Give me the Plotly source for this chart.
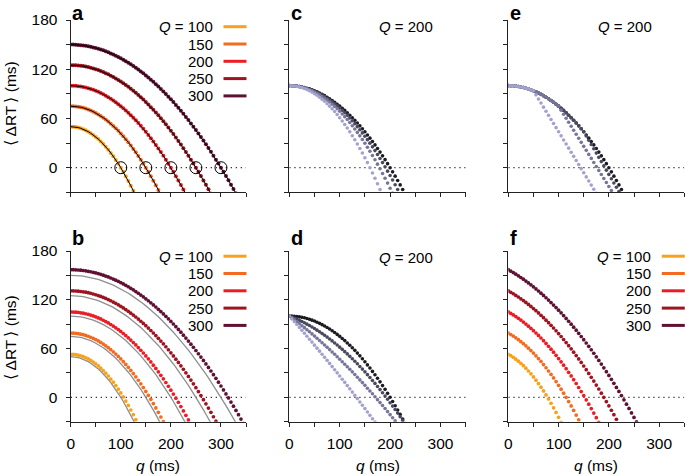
import plotly.graph_objects as go

W, H = 685, 476
FONT = "Liberation Sans, Arial, Helvetica, sans-serif"

# sampling grid of q (ms); every series below is sampled on it from q = 0
Q_GRID = list(range(0, 400, 5))

Q_VALUES = [100, 150, 200, 250, 300]
Q_NAMES = ["<i>Q</i> = 100", "150", "200", "250", "300"]
Q_COLORS = ["#f8a11b", "#f26b21", "#ec1c24", "#9e1320", "#5f1133"]
SHADES = ["#1a1a21", "#4a495f", "#77769a", "#a3a2ce"]  # dark -> light

# ---- panel a (also grey reference curves of panel b) ----
A_100 = [50, 49.9, 49.5, 48.9, 48, 46.9, 45.5, 43.9, 42, 39.9, 37.5, 34.9, 32, 28.9, 25.5, 21.9, 18, 13.9, 9.5, 4.9, 0, -5.1, -10.5, -16.1, -22, -28.1, -34.5]
A_150 = [75, 74.9, 74.7, 74.3, 73.7, 72.9, 72, 70.9, 69.7, 68.3, 66.7, 64.9, 63, 60.9, 58.7, 56.3, 53.7, 50.9, 48, 44.9, 41.7, 38.3, 34.7, 30.9, 27, 22.9, 18.7, 14.3, 9.7, 4.9, 0, -5.1, -10.3, -15.8, -21.3, -27.1, -33]
A_200 = [100, 99.9, 99.8, 99.4, 99, 98.4, 97.8, 96.9, 96, 94.9, 93.8, 92.4, 91, 89.4, 87.8, 85.9, 84, 81.9, 79.8, 77.4, 75, 72.4, 69.8, 66.9, 64, 60.9, 57.8, 54.4, 51, 47.4, 43.8, 39.9, 36, 31.9, 27.8, 23.4, 19, 14.4, 9.8, 4.9, 0, -5.1, -10.3, -15.6, -21, -26.6, -32.3]
A_250 = [125, 125, 124.8, 124.6, 124.2, 123.8, 123.2, 122.6, 121.8, 121, 120, 119, 117.8, 116.6, 115.2, 113.8, 112.2, 110.6, 108.8, 107, 105, 103, 100.8, 98.6, 96.2, 93.8, 91.2, 88.6, 85.8, 83, 80, 77, 73.8, 70.6, 67.2, 63.8, 60.2, 56.6, 52.8, 49, 45, 41, 36.8, 32.6, 28.2, 23.8, 19.2, 14.6, 9.8, 5, 0, -5, -10.2, -15.5, -20.8, -26.3, -31.8]
A_300 = [150, 150, 149.8, 149.6, 149.3, 149, 148.5, 148, 147.3, 146.6, 145.8, 145, 144, 143, 141.8, 140.6, 139.3, 138, 136.5, 135, 133.3, 131.6, 129.8, 128, 126, 124, 121.8, 119.6, 117.3, 115, 112.5, 110, 107.3, 104.6, 101.8, 99, 96, 93, 89.8, 86.6, 83.3, 80, 76.5, 73, 69.3, 65.6, 61.8, 58, 54, 50, 45.8, 41.6, 37.3, 33, 28.5, 24, 19.3, 14.6, 9.8, 5, 0, -5, -10.2, -15.4, -20.7, -26, -31.5]
A_SERIES = [A_100, A_150, A_200, A_250, A_300]

# ---- panel b ----
B_100 = [53, 52.9, 52.5, 51.9, 51.1, 50, 48.7, 47.2, 45.4, 43.4, 41.1, 38.6, 35.9, 32.9, 29.7, 26.2, 22.5, 18.6, 14.4, 10, 5.4, 0.5, -4.6, -10, -15.6, -21.4, -27.5, -33.8]
B_150 = [79, 78.9, 78.7, 78.3, 77.7, 77, 76.1, 75.1, 73.9, 72.6, 71, 69.4, 67.5, 65.5, 63.4, 61.1, 58.6, 56, 53.2, 50.3, 47.2, 43.9, 40.5, 36.9, 33.1, 29.2, 25.2, 21, 16.6, 12, 7.3, 2.5, -2.5, -7.7, -13, -18.5, -24.2, -30]
B_200 = [105, 104.9, 104.8, 104.5, 104, 103.5, 102.8, 102.1, 101.2, 100.1, 99, 97.7, 96.4, 94.8, 93.2, 91.5, 89.6, 87.6, 85.5, 83.3, 81, 78.5, 75.9, 73.2, 70.4, 67.4, 64.4, 61.2, 57.9, 54.5, 50.9, 47.3, 43.5, 39.6, 35.5, 31.4, 27.1, 22.7, 18.2, 13.6, 8.8, 4, -1, -6.1, -11.4, -16.7, -22.2, -27.8, -33.5]
B_250 = [131, 131, 130.8, 130.6, 130.2, 129.8, 129.3, 128.7, 128, 127.1, 126.2, 125.2, 124.1, 122.9, 121.7, 120.3, 118.8, 117.2, 115.6, 113.8, 111.9, 110, 107.9, 105.8, 103.5, 101.2, 98.8, 96.3, 93.6, 90.9, 88.1, 85.2, 82.2, 79.1, 75.9, 72.6, 69.2, 65.8, 62.2, 58.5, 54.7, 50.9, 46.9, 42.9, 38.7, 34.5, 30.1, 25.7, 21.2, 16.6, 11.8, 7, 2.1, -2.9, -8, -13.2, -18.5, -23.9, -29.3, -34.9]
B_300 = [157, 157, 156.8, 156.6, 156.4, 156, 155.6, 155, 154.5, 153.8, 153, 152.2, 151.3, 150.3, 149.2, 148.1, 146.8, 145.5, 144.1, 142.7, 141.1, 139.5, 137.8, 136, 134.1, 132.2, 130.1, 128, 125.8, 123.6, 121.2, 118.8, 116.3, 113.7, 111.1, 108.3, 105.5, 102.6, 99.6, 96.6, 93.4, 90.2, 86.9, 83.5, 80.1, 76.5, 72.9, 69.2, 65.4, 61.6, 57.6, 53.6, 49.5, 45.4, 41.1, 36.8, 32.4, 27.9, 23.3, 18.6, 13.9, 9.1, 4.2, -0.8, -5.8, -10.9, -16.1, -21.4, -26.8, -32.2]
B_SERIES = [B_100, B_150, B_200, B_250, B_300]

# ---- panel c (Q = 200), dark -> light ----
C_BLACK = A_200
C_DARK = [100, 99.9, 99.7, 99.4, 98.9, 98.3, 97.5, 96.6, 95.6, 94.5, 93.2, 91.7, 90.1, 88.4, 86.6, 84.6, 82.5, 80.2, 77.8, 75.3, 72.6, 69.8, 66.9, 63.8, 60.6, 57.2, 53.7, 50.1, 46.3, 42.4, 38.4, 34.2, 29.9, 25.4, 20.8, 16.1, 11.2, 6.2, 1.1, -4.2, -9.6, -15.1, -20.8, -26.6, -32.6]
C_MID = [100, 99.9, 99.7, 99.3, 98.8, 98, 97.2, 96.2, 95, 93.7, 92.2, 90.5, 88.8, 86.8, 84.7, 82.4, 80, 77.4, 74.7, 71.8, 68.8, 65.5, 62.2, 58.7, 55, 51.2, 47.2, 43, 38.8, 34.3, 29.7, 24.9, 20, 14.9, 9.7, 4.3, -1.3, -7, -12.8, -18.8, -25, -31.3]
C_LIGHT = [100, 99.9, 99.6, 99.1, 98.4, 97.6, 96.5, 95.2, 93.8, 92.1, 90.2, 88.2, 85.9, 83.5, 80.9, 78, 75, 71.8, 68.4, 64.8, 60.9, 56.9, 52.7, 48.3, 43.8, 39, 34, 28.8, 23.4, 17.9, 12.1, 6.2, 0, -6.4, -12.9, -19.6, -26.6, -33.7]
C_SERIES = [C_BLACK, C_DARK, C_MID, C_LIGHT]

# ---- panel d (Q = 200), dark -> light ----
D_BLACK = A_200
D_DARK = [100, 98.8, 97.5, 96.2, 94.7, 93.2, 91.7, 90, 88.3, 86.5, 84.6, 82.6, 80.6, 78.5, 76.3, 74.1, 71.8, 69.4, 66.9, 64.3, 61.7, 59, 56.2, 53.4, 50.4, 47.4, 44.4, 41.2, 38, 34.7, 31.3, 27.9, 24.3, 20.7, 17.1, 13.3, 9.5, 5.6, 1.6, -2.4, -6.6, -10.8, -15, -19.4, -23.8, -28.3, -32.9]
D_MID = [100, 97.7, 95.4, 93, 90.6, 88.1, 85.7, 83.1, 80.6, 78, 75.3, 72.7, 69.9, 67.2, 64.4, 61.6, 58.7, 55.8, 52.9, 49.9, 46.9, 43.8, 40.7, 37.6, 34.5, 31.3, 28, 24.7, 21.4, 18.1, 14.7, 11.2, 7.8, 4.3, 0.7, -2.9, -6.5, -10.1, -13.8, -17.6, -21.3, -25.2, -29, -32.9]
D_LIGHT = [100, 96.5, 93, 89.5, 85.9, 82.4, 78.8, 75.2, 71.5, 67.9, 64.2, 60.5, 56.8, 53, 49.3, 45.5, 41.7, 37.8, 34, 30.1, 26.2, 22.3, 18.4, 14.4, 10.4, 6.4, 2.4, -1.6, -5.7, -9.8, -13.9, -18, -22.2, -26.3, -30.5]
D_SERIES = [D_BLACK, D_DARK, D_MID, D_LIGHT]

# ---- panel e (Q = 200), dark -> light ----
E_BLACK = A_200
E_DARK = [100, 99.9, 99.8, 99.4, 99, 98.4, 97.8, 96.9, 96, 94.9, 93.8, 92.4, 91, 89.4, 87.8, 85.9, 84, 81.9, 79.8, 77.4, 75, 72.4, 69.8, 66.9, 64, 60.9, 57.8, 54.4, 51, 47.4, 43.8, 38.6, 33.4, 28.2, 23, 17.8, 12.6, 7.4, 2.2, -3, -8.2, -13.4, -18.6, -23.8, -29, -34.2]
E_MID = [100, 99.9, 99.8, 99.4, 99, 98.4, 97.8, 96.9, 96, 94.9, 93.8, 92.4, 91, 89.4, 87.8, 85.9, 84, 81.9, 79.8, 77.4, 75, 70.1, 65.2, 60.3, 55.4, 50.5, 45.6, 40.7, 35.8, 30.9, 26, 21.1, 16.2, 11.3, 6.4, 1.5, -3.4, -8.3, -13.2, -18.1, -23, -27.9, -32.8]
E_LIGHT = [100, 99.9, 99.8, 99.4, 99, 98.4, 97.8, 96.9, 96, 94.9, 93.8, 88.8, 83.8, 78.8, 73.8, 68.8, 63.8, 58.8, 53.8, 48.8, 43.8, 38.8, 33.8, 28.8, 23.8, 18.8, 13.8, 8.8, 3.8, -1.2, -6.2, -11.2, -16.2, -21.2, -26.2, -31.2]
E_SERIES = [E_BLACK, E_DARK, E_MID, E_LIGHT]

# ---- panel f ----
F_100 = [53, 51.2, 49.2, 46.9, 44.5, 41.8, 38.9, 35.8, 32.4, 28.9, 25.1, 21.1, 16.9, 12.5, 7.9, 3, -2.1, -7.3, -12.9, -18.6, -24.5, -30.7]
F_150 = [79, 77.2, 75.3, 73.2, 70.9, 68.5, 66, 63.3, 60.5, 57.5, 54.4, 51.1, 47.6, 44.1, 40.3, 36.4, 32.4, 28.2, 23.9, 19.4, 14.8, 10, 5.1, 0, -5.2, -10.6, -16.1, -21.8, -27.6, -33.6]
F_200 = [105, 103.2, 101.3, 99.3, 97.2, 95, 92.6, 90.1, 87.5, 84.9, 82, 79.1, 76.1, 73, 69.7, 66.3, 62.8, 59.2, 55.5, 51.7, 47.7, 43.7, 39.5, 35.2, 30.8, 26.3, 21.7, 17, 12.1, 7.1, 2.1, -3.1, -8.4, -13.9, -19.4, -25, -30.8]
F_250 = [131, 129.2, 127.4, 125.4, 123.4, 121.2, 119, 116.7, 114.3, 111.8, 109.2, 106.6, 103.8, 100.9, 98, 94.9, 91.8, 88.6, 85.3, 81.9, 78.4, 74.8, 71.1, 67.4, 63.5, 59.6, 55.5, 51.4, 47.2, 42.9, 38.5, 34, 29.4, 24.7, 20, 15.1, 10.2, 5.1, 0, -5.2, -10.5, -15.9, -21.4, -27, -32.7]
F_300 = [157, 155.2, 153.4, 151.5, 149.5, 147.4, 145.3, 143, 140.7, 138.4, 135.9, 133.4, 130.8, 128.1, 125.3, 122.5, 119.6, 116.6, 113.5, 110.4, 107.2, 103.9, 100.5, 97.1, 93.6, 90, 86.3, 82.6, 78.7, 74.8, 70.9, 66.8, 62.7, 58.5, 54.2, 49.8, 45.4, 40.9, 36.3, 31.6, 26.9, 22.1, 17.2, 12.2, 7.2, 2.1, -3.1, -8.4, -13.7, -19.2, -24.7, -30.2]
F_SERIES = [F_100, F_150, F_200, F_250, F_300]

X_TICKS = [0, 50, 100, 150, 200, 250, 300, 350]
X_LABELS = ["0", "", "100", "", "200", "", "300", ""]
Y_TICKS = [-30, 0, 30, 60, 90, 120, 150, 180]
Y_LABELS = ["", "0", "", "60", "", "120", "", "180"]

# ---- layout geometry (window pixels) ----
COLS_PX = [(70.7, 246.0), (289.3, 465.7), (508.3, 684.3)]
ROWS_PX = [(20.0, 192.3), (251.0, 421.7)]
LETTER_TOP = [0.5, 225.0]   # top edge of the panel-letter text boxes
PANELS = {"a": (0, 0), "c": (0, 1), "e": (0, 2), "b": (1, 0), "d": (1, 1), "f": (1, 2)}


def px_x(p):
    return p / W


def px_y(p):
    return 1 - p / H


def axis_ids(r, c):
    n = r * 3 + c + 1
    s = "" if n == 1 else str(n)
    return "x" + s, "y" + s


fig = go.Figure()


def dots(panel, y, color, size=3.7):
    xa, ya = axis_ids(*PANELS[panel])
    fig.add_trace(go.Scatter(x=Q_GRID[:len(y)], y=y, mode="markers",
                             marker=dict(size=size, color=color, line=dict(width=0)),
                             xaxis=xa, yaxis=ya, hoverinfo="skip", showlegend=False))


def curve(panel, y, color, width):
    xa, ya = axis_ids(*PANELS[panel])
    fig.add_trace(go.Scatter(x=Q_GRID[:len(y)], y=y, mode="lines",
                             line=dict(color=color, width=width),
                             xaxis=xa, yaxis=ya, hoverinfo="skip", showlegend=False))


# panel a: points with fitted black curves and zero-crossing circles
for y, col in zip(A_SERIES, Q_COLORS):
    dots("a", y, col, 4)
for y in A_SERIES:
    curve("a", y, "black", 1)
fig.add_trace(go.Scatter(x=Q_VALUES, y=[0] * len(Q_VALUES), mode="markers",
                         marker=dict(size=12, color="rgba(0,0,0,0)", line=dict(color="black", width=1)),
                         xaxis="x", yaxis="y", hoverinfo="skip", showlegend=False))

# panel b: grey reference curves + points
for y in A_SERIES:
    curve("b", y, "#8f8f8f", 1.3)
for y, col in zip(B_SERIES, Q_COLORS):
    dots("b", y, col)

# panels c, d, e: Q = 200, dark drawn first
for panel, series in (("c", C_SERIES), ("d", D_SERIES), ("e", E_SERIES)):
    for y, col in zip(series, SHADES):
        dots(panel, y, col, 3.6)

# panel f
for y, col in zip(F_SERIES, Q_COLORS):
    dots("f", y, col)

layout = dict(width=W, height=H, margin=dict(l=0, r=0, t=0, b=0, autoexpand=False),
              paper_bgcolor="white", plot_bgcolor="white",
              font=dict(family=FONT, size=15, color="black"), showlegend=False)

shapes = []
annotations = []
axis_style = dict(showline=True, linecolor="#222", linewidth=1.3, ticks="outside",
                  ticklen=4, tickwidth=1.2, tickcolor="#222", showgrid=False, automargin=False,
                  zeroline=False, fixedrange=True, tickfont=dict(size=15.5, family=FONT))

for name, (r, c) in PANELS.items():
    xa, ya = axis_ids(r, c)
    x0, x1 = COLS_PX[c]
    top, bot = ROWS_PX[r]
    xkey = "xaxis" + xa[1:]
    ykey = "yaxis" + ya[1:]
    layout[xkey] = dict(axis_style, domain=[px_x(x0), px_x(x1)], range=[0, 350], anchor=ya,
                        tickvals=X_TICKS,
                        ticktext=X_LABELS if r == 1 else [""] * len(X_TICKS),
                        ticklabelstandoff=4)
    layout[ykey] = dict(axis_style, domain=[px_y(bot), px_y(top)], range=[-30, 180], anchor=xa,
                        tickvals=Y_TICKS,
                        ticktext=Y_LABELS if c == 0 else [""] * len(Y_TICKS),
                        ticklabelstandoff=5)
    # dotted zero line
    shapes.append(dict(type="line", xref=xa, yref=ya, x0=0, x1=350, y0=0, y1=0,
                       line=dict(color="#333", width=1.2, dash="1.3px,3.7px"), layer="below"))
    # panel letter
    annotations.append(dict(text="<b>%s</b>" % name, x=px_x(x0 - 0.5), y=px_y(LETTER_TOP[r]),
                            xref="paper", yref="paper", xanchor="left", yanchor="top",
                            showarrow=False, font=dict(size=20, family=FONT)))

# legends (panels a, b, f)
for panel, top_off in (("a", 6.7), ("b", 5.2), ("f", 5.2)):
    r, c = PANELS[panel]
    x0, x1 = COLS_PX[c]
    top = ROWS_PX[r][0]
    text_right = x1 - 31.5
    for i, (lab, col) in enumerate(zip(Q_NAMES, Q_COLORS)):
        yc = top + top_off + 17.3 * i
        annotations.append(dict(text=lab, x=px_x(text_right), y=px_y(yc), xref="paper", yref="paper",
                                xanchor="right", yanchor="middle", showarrow=False,
                                font=dict(size=15, family=FONT)))
        shapes.append(dict(type="line", xref="paper", yref="paper",
                           x0=px_x(x1 - 22.5), x1=px_x(x1 + 0.5), y0=px_y(yc), y1=px_y(yc),
                           line=dict(color=col, width=3)))

# "Q = 200" labels
for panel in ("c", "d", "e"):
    r, c = PANELS[panel]
    x0, x1 = COLS_PX[c]
    top = ROWS_PX[r][0]
    annotations.append(dict(text="<i>Q</i> = 200", x=px_x(x0 + 117), y=px_y(top + 6),
                            xref="paper", yref="paper", xanchor="center", yanchor="middle",
                            showarrow=False, font=dict(size=15, family=FONT)))

# axis titles
for c in range(3):
    x0, x1 = COLS_PX[c]
    annotations.append(dict(text="<i>q</i> (ms)", x=px_x((x0 + x1) / 2), y=px_y(465),
                            xref="paper", yref="paper", xanchor="center", yanchor="middle",
                            showarrow=False, font=dict(size=15.5, family=FONT)))
for r, yc in ((0, 104), (1, 338)):
    annotations.append(dict(text="\u27e8\u2009\u0394RT\u2009\u27e9 (ms)", x=px_x(9.5), y=px_y(yc),
                            xref="paper", yref="paper", xanchor="center", yanchor="middle",
                            textangle=-90, showarrow=False, font=dict(size=15.5, family=FONT)))

layout["shapes"] = shapes
layout["annotations"] = annotations
fig.update_layout(**layout)

# the page's default body margin would move the figure 8 px in; pin it to the window corner
PIN = ("document.documentElement.style.margin='0';document.body.style.margin='0';"
       "document.body.style.overflow='hidden';"
       "var g=document.getElementById('{plot_id}');"
       "g.style.position='fixed';g.style.left='0px';g.style.top='0px';")
fig.write_html("out.html", config={"displayModeBar": False}, post_script=PIN)
